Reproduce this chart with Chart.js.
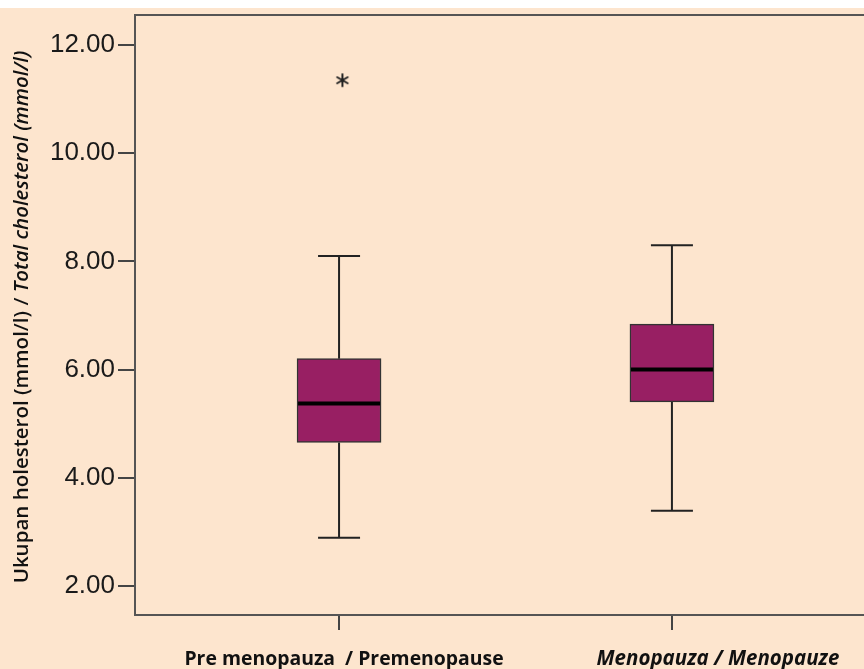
<!DOCTYPE html>
<html>
<head>
<meta charset="utf-8">
<script src="https://cdn.jsdelivr.net/npm/chart.js@4.4.1/dist/chart.umd.min.js"></script>
<style>
  html, body { margin: 0; background: #fff; }
  #wrap { width: 864px; height: 669px; }
</style>
</head>
<body>
<div id="wrap"><canvas id="grafico"></canvas></div>
<script>
const grupos = ['Pre menopauza  / Premenopause', 'Menopauza / Menopauze']
const posicoes = [1, 2]
const minimos = [2.89, 3.39]
const q1 = [4.65, 5.40]
const medianas = [5.37, 6.00]
const q3 = [6.20, 6.84]
const maximos = [8.10, 8.30]
const extremosX = [1.01]
const extremosY = [11.35]
const ticksY = [2, 4, 6, 8, 10, 12]

const tituloY = ['Ukupan holesterol (mmol/l) / ', 'Total cholesterol (mmol/l)']

const fundo = '#fde5ce'
const corCaixa = '#981f63'
const corLinha = '#222'

// asterisco de 6 pontas para o outlier
const asterisco = document.createElement('canvas')
asterisco.width = 16
asterisco.height = 16
{
  const c = asterisco.getContext('2d')
  c.strokeStyle = corLinha
  c.lineWidth = 2
  c.lineCap = 'round'
  for (const a of [90, 30, 150]) {
    const r = a * Math.PI / 180
    c.beginPath()
    c.moveTo(8 - Math.cos(r) * 6, 8 - Math.sin(r) * 6)
    c.lineTo(8 + Math.cos(r) * 6, 8 + Math.sin(r) * 6)
    c.stroke()
  }
}

const pluginFundo = {
  id: 'fundo',
  beforeDraw(chart) {
    const ctx = chart.ctx
    ctx.save()
    ctx.fillStyle = fundo
    ctx.fillRect(0, 8, chart.width, chart.height - 8)
    ctx.restore()
  }
}

const pluginBigodes = {
  id: 'bigodes',
  beforeDatasetsDraw(chart) {
    const { ctx, scales: { x, y } } = chart
    ctx.save()
    ctx.strokeStyle = corLinha
    ctx.lineWidth = 2
    posicoes.forEach((p, i) => {
      const px = x.getPixelForValue(p)
      const meia = 21
      ctx.beginPath()
      ctx.moveTo(px, y.getPixelForValue(minimos[i]))
      ctx.lineTo(px, y.getPixelForValue(q1[i]))
      ctx.moveTo(px, y.getPixelForValue(q3[i]))
      ctx.lineTo(px, y.getPixelForValue(maximos[i]))
      ctx.moveTo(px - meia, y.getPixelForValue(minimos[i]))
      ctx.lineTo(px + meia, y.getPixelForValue(minimos[i]))
      ctx.moveTo(px - meia, y.getPixelForValue(maximos[i]))
      ctx.lineTo(px + meia, y.getPixelForValue(maximos[i]))
      ctx.stroke()
    })
    ctx.restore()
  },
  afterDatasetsDraw(chart) {
    const { ctx, scales: { x, y } } = chart
    ctx.save()
    ctx.strokeStyle = '#000'
    ctx.lineWidth = 4
    posicoes.forEach((p, i) => {
      const px = x.getPixelForValue(p)
      const py = y.getPixelForValue(medianas[i])
      ctx.beginPath()
      ctx.moveTo(px - 41, py)
      ctx.lineTo(px + 41, py)
      ctx.stroke()
    })
    ctx.restore()
  }
}

const pluginMoldura = {
  id: 'moldura',
  afterDraw(chart) {
    const { ctx, chartArea, scales: { x } } = chart
    ctx.save()
    ctx.strokeStyle = '#555'
    ctx.lineWidth = 2
    ctx.beginPath()
    ctx.moveTo(chartArea.left - 1, chartArea.top)
    ctx.lineTo(chart.width, chartArea.top)
    ctx.stroke()

    // rotulos do eixo x (o segundo fica deslocado para a direita no original)
    const fontesX = ['700 19.4px "Open Sans"', 'italic 700 20.5px "Open Sans"']
    const deslocX = [5, 46]
    ctx.fillStyle = '#111'
    ctx.textAlign = 'center'
    ctx.textBaseline = 'alphabetic'
    grupos.forEach((g, i) => {
      ctx.font = fontesX[i]
      ctx.fillText(g, x.getPixelForValue(posicoes[i]) + deslocX[i], chartArea.bottom + 50)
    })

    // titulo do eixo y com duas fontes
    const f1 = '600 20.5px "Open Sans"'
    const f2 = 'italic 600 20.5px "Open Sans"'
    ctx.font = f1
    const w1 = ctx.measureText(tituloY[0]).width
    ctx.font = f2
    const w2 = ctx.measureText(tituloY[1]).width
    ctx.translate(22, 317)
    ctx.rotate(-Math.PI / 2)
    ctx.textBaseline = 'middle'
    ctx.textAlign = 'left'
    const x0 = -(w1 + w2) / 2
    ctx.font = f1
    ctx.fillText(tituloY[0], x0, 0)
    ctx.font = f2
    ctx.fillText(tituloY[1], x0 + w1, 0)
    ctx.restore()
  }
}

new Chart(document.getElementById('grafico'), {
  type: 'bar',
  data: {
    datasets: [
      {
        type: 'bar',
        data: posicoes.map((p, i) => ({ x: p, y: [q1[i], q3[i]] })),
        backgroundColor: corCaixa,
        borderColor: '#333',
        borderWidth: 1.5,
        borderSkipped: false,
        barThickness: 84
      },
      {
        type: 'scatter',
        data: extremosX.map((v, i) => ({ x: v, y: extremosY[i] })),
        pointStyle: asterisco,
        pointRadius: 8
      }
    ]
  },
  options: {
    responsive: true,
    maintainAspectRatio: false,
    animation: false,
    layout: { autoPadding: false, padding: { top: 15, right: 0, bottom: 0, left: 0 } },
    plugins: {
      legend: { display: false },
      tooltip: { enabled: false }
    },
    scales: {
      x: {
        type: 'linear',
        min: 0.387,
        max: 2.577,
        offset: false,
        afterBuildTicks: (s) => { s.ticks = posicoes.map(v => ({ value: v })) },
        afterFit: (s) => { s.height = 54; s.paddingLeft = 0; s.paddingRight = 0 },
        grid: { offset: false, drawOnChartArea: false, tickLength: 15, color: '#444', lineWidth: 2 },
        border: { color: '#555', width: 2 },
        ticks: { display: false }
      },
      y: {
        min: 1.46,
        max: 12.556,
        afterBuildTicks: (s) => { s.ticks = ticksY.map(v => ({ value: v })) },
        afterFit: (s) => { s.width = 135; s.paddingTop = 0; s.paddingBottom = 0 },
        grid: { drawOnChartArea: false, tickLength: 17, color: '#444', lineWidth: 2 },
        border: { color: '#555', width: 2 },
        ticks: {
          padding: 3,
          color: '#1a1a1a',
          callback: (v) => v.toFixed(2),
          font: { family: 'Liberation Sans', size: 26 }
        }
      }
    }
  },
  plugins: [pluginFundo, pluginBigodes, pluginMoldura]
})
</script>
</body>
</html>
